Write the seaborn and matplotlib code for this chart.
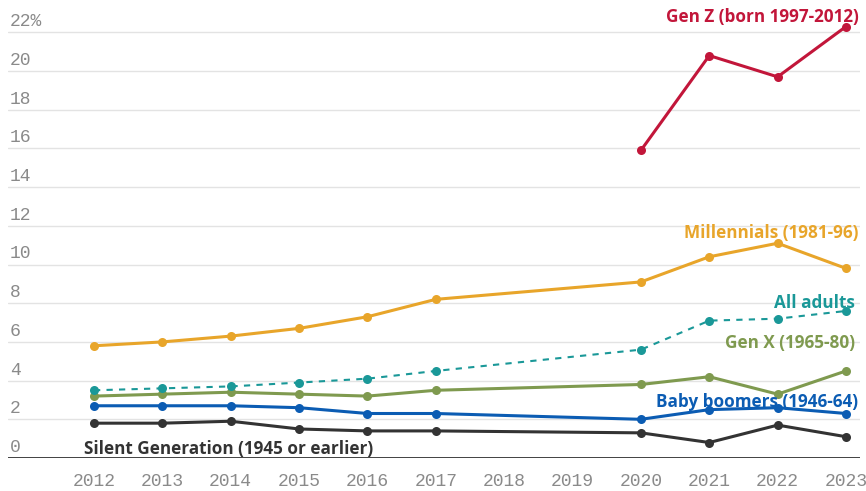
import matplotlib
matplotlib.use("Agg")
import matplotlib.pyplot as plt
import seaborn as sns
import pandas as pd
import numpy as np

# Share of U.S. adults identifying as LGBTQ+, by generation (%)
years = [2012, 2013, 2014, 2015, 2016, 2017, 2020, 2021, 2022, 2023]
gen_z = [np.nan, np.nan, np.nan, np.nan, np.nan, np.nan, 15.9, 20.8, 19.7, 22.3]
millennials = [5.8, 6.0, 6.3, 6.7, 7.3, 8.2, 9.1, 10.4, 11.1, 9.8]
all_adults = [3.5, 3.6, 3.7, 3.9, 4.1, 4.5, 5.6, 7.1, 7.2, 7.6]
gen_x = [3.2, 3.3, 3.4, 3.3, 3.2, 3.5, 3.8, 4.2, 3.3, 4.5]
boomers = [2.7, 2.7, 2.7, 2.6, 2.3, 2.3, 2.0, 2.5, 2.6, 2.3]
silent = [1.8, 1.8, 1.9, 1.5, 1.4, 1.4, 1.3, 0.8, 1.7, 1.1]

series_names = ["Silent Generation (1945 or earlier)", "Baby boomers (1946-64)",
                "Gen X (1965-80)", "All adults", "Millennials (1981-96)",
                "Gen Z (born 1997-2012)"]
series_values = [silent, boomers, gen_x, all_adults, millennials, gen_z]
series_colors = ["#333333", "#0b5cb3", "#7f9a4f", "#1a9898", "#e8a52a", "#c2163a"]

y_ticks = [0, 2, 4, 6, 8, 10, 12, 14, 16, 18, 20, 22]
x_ticks = list(range(2012, 2024))

sns.set_theme(style="white")
plt.rcParams["font.family"] = ["DejaVu Sans"]

fig = plt.figure(figsize=(8.66, 4.91), dpi=100)
ax = fig.add_axes([8 / 866, 33 / 491, 852 / 866, 445 / 491])

frames = []
for name, vals in zip(series_names, series_values):
    frames.append(pd.DataFrame({"year": years, "value": vals, "group": name}))
df = pd.concat(frames).dropna()

for name, color in zip(series_names, series_colors):
    sub = df[df["group"] == name]
    dashed = name == "All adults"
    sns.lineplot(data=sub, x="year", y="value", ax=ax, color=color,
                 lw=1.5 if dashed else 2.2,
                 linestyle=(0, (3, 3)) if dashed else "-",
                 marker="o", markersize=6.5, markeredgewidth=0,
                 legend=False, zorder=3)

ax.set_xlim(2012 - 86 / 68.36, 2023 + 14 / 68.36)
ax.set_ylim(0, 23)

# gridlines and baseline
for t in y_ticks[1:]:
    ax.axhline(t, color="#e3e3e3", lw=1.0, zorder=1)
ax.axhline(0, color="#333333", lw=1.3, zorder=2)

for s in ax.spines.values():
    s.set_visible(False)

tick_font = dict(family=["Liberation Mono", "DejaVu Sans Mono"], size=13, color="#8a8a8a")

ax.set_yticks([])
for t in y_ticks:
    lbl = f"{t}%" if t == 22 else f"{t}"
    ax.annotate(lbl, xy=(0.002, t), xycoords=("axes fraction", "data"),
                xytext=(0, 1.5), textcoords="offset points",
                ha="left", va="bottom", **tick_font)

ax.set_xticks(x_ticks)
ax.set_xticklabels([str(x) for x in x_ticks], fontdict=tick_font)
ax.tick_params(axis="x", length=0, pad=11)
ax.set_xlabel("")
ax.set_ylabel("")

label_font = dict(family=["Open Sans", "DejaVu Sans"], weight="bold", size=12.3)
label_specs = [
    ("Gen Z (born 1997-2012)", 0.998, 22.8),
    ("Millennials (1981-96)", 0.998, 11.65),
    ("All adults", 0.994, 8.0),
    ("Gen X (1965-80)", 0.994, 5.95),
    ("Baby boomers (1946-64)", 0.998, 2.9),
]
color_by_name = dict(zip(series_names, series_colors))
for text, xf, yv in label_specs:
    ax.text(xf, yv, text, transform=ax.get_yaxis_transform(), ha="right", va="center",
            color=color_by_name[text], zorder=5, **label_font)

ax.text(2011.85, 0.45, "Silent Generation (1945 or earlier)", ha="left", va="center",
        color=color_by_name["Silent Generation (1945 or earlier)"], zorder=5,
        **label_font)

fig.savefig("out.png", dpi=100)
